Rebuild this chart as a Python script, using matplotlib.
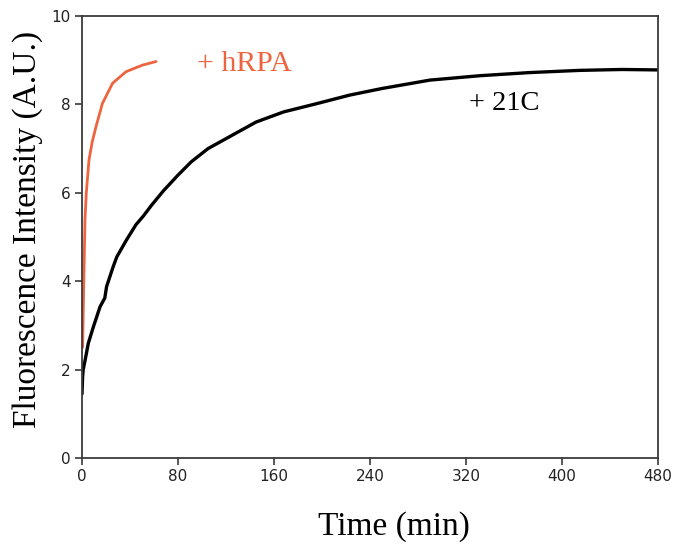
import matplotlib
matplotlib.use("Agg")
import matplotlib.pyplot as plt

# Data
t_21c = [0, 0.5, 1, 2.5, 5.3, 9.4, 15, 19, 20.5, 26, 29, 37, 45, 51, 58, 68, 80, 91,
         105, 125, 145, 168, 196, 223, 250, 290, 332, 373, 415, 450, 480]
f_21c = [1.45, 1.84, 2.0, 2.2, 2.6, 2.96, 3.42, 3.62, 3.88, 4.33, 4.55, 4.93, 5.28, 5.47, 5.72, 6.05, 6.4, 6.7,
         7.0, 7.3, 7.6, 7.83, 8.02, 8.21, 8.36, 8.55, 8.65, 8.72, 8.77, 8.79, 8.78]

t_hrpa = [0.5, 1.5, 2.5, 3.6, 5.8, 8.5, 11.7, 17, 25.5, 36.7, 50.5, 61.7]
f_hrpa = [2.5, 4.0, 5.4, 6.0, 6.74, 7.15, 7.5, 8.02, 8.48, 8.74, 8.89, 8.97]

x_ticks = [0, 80, 160, 240, 320, 400, 480]
y_ticks = [0, 2, 4, 6, 8, 10]

red = "#ef6440"
spine_col = "#3a3a3a"
serif = ["Liberation Serif", "DejaVu Serif"]

fig = plt.figure(figsize=(6.76, 5.47), dpi=100)
ax = fig.add_axes([82/676, 1 - 458/547, (658 - 82)/676, (458 - 16)/547])

ax.plot(t_21c, f_21c, color="black", lw=2.4, solid_joinstyle="round", solid_capstyle="round")
ax.plot(t_hrpa, f_hrpa, color=red, lw=2.0, solid_joinstyle="round", solid_capstyle="round")

ax.set_xlim(0, 480)
ax.set_ylim(0, 10)
ax.set_xticks(x_ticks)
ax.set_yticks(y_ticks)
ax.tick_params(direction="out", length=5, width=1.2, color=spine_col,
               labelsize=11, labelcolor="#222222", pad=3,
               top=False, right=False)
for s in ax.spines.values():
    s.set_color(spine_col)
    s.set_linewidth(1.3)

ax.text(96, 8.91, "+ hRPA", color=red, fontsize=21.5, family=serif,
        ha="left", va="center")
ax.text(322.5, 8.03, "+ 21C", color="black", fontsize=20.5, family=serif,
        ha="left", va="center")

fig.text(28/676, 1 - 229/547, "Fluorescence Intensity (A.U.)", rotation=90,
         fontsize=24, family=serif, ha="center", va="center")
fig.text(394/676, 1 - 527/547, "Time (min)", fontsize=24, family=serif,
         ha="center", va="center")

fig.savefig("out.png", dpi=100)
